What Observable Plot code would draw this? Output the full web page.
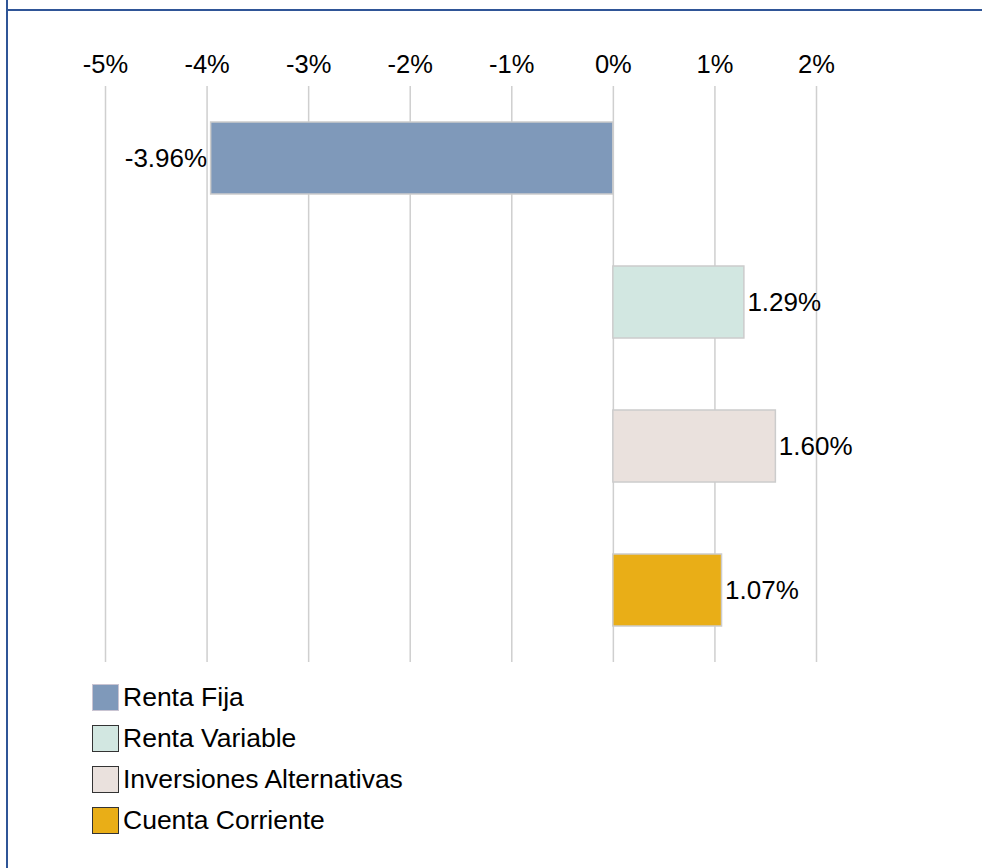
<!DOCTYPE html>
<html><head><meta charset="utf-8">
<script src="https://cdn.jsdelivr.net/npm/d3@7"></script>
<script src="https://cdn.jsdelivr.net/npm/@observablehq/plot@0.6"></script>
<style>
body{margin:0;background:#fff;font-family:"Liberation Sans",Arial,sans-serif;}
#wrap{position:relative;width:982px;height:868px;overflow:hidden;background:#fff;}
#topline{position:absolute;left:6px;top:9px;width:976px;height:2px;background:#2f5597;}
#leftline{position:absolute;left:6px;top:0;width:2px;height:868px;background:#2f5597;}
#chart{position:absolute;left:0;top:0;}
#legend{position:absolute;left:92px;top:677px;}
.item{display:flex;align-items:center;height:41px;font-size:26.5px;color:#000;}
.sw{width:27px;height:27px;box-sizing:border-box;border:1px solid #333;margin-right:4px;}
</style></head><body>
<div id="wrap"><div id="chart"></div><div id="legend"></div><div id="topline"></div><div id="leftline"></div></div>
<script>
const categories = ["Renta Fija","Renta Variable","Inversiones Alternativas","Cuenta Corriente"];
const values = [-3.96, 1.29, 1.60, 1.07];
const colors = ["#7f99ba","#d2e7e1","#eae1dd","#e9ae17"];
const swatchBorders = ["#c9c4d2","#333333","#333333","#333333"];
const ticks = [-5,-4,-3,-2,-1,0,1,2];
const data = categories.map((c,i)=>({category:c, value:values[i]}));
const fmt = d => d + "%";
const chart = Plot.plot({
  width: 982, height: 670,
  marginTop: 86, marginBottom: 8, marginLeft: 105, marginRight: 166,
  style: {fontFamily: '"Liberation Sans", Arial, sans-serif', fontSize: "25px", color: "#000", background: "transparent", overflow: "visible"},
  x: {domain: [-5, 2], ticks, tickFormat: fmt, axis: null, label: null},
  y: {domain: categories, paddingInner: 0.5, paddingOuter: 0.25, axis: null},
  color: {domain: categories, range: colors},
  marks: [
    Plot.ruleX(ticks, {stroke: "#cfcfcf", strokeWidth: 1.5}),
    Plot.axisX({anchor: "top", ticks, tickFormat: fmt, tickSize: 0, tickPadding: 14, fontSize: 25.5, label: null}),
    Plot.barX(data, {x: "value", y: "category", fill: "category", stroke: "#cccccc", strokeWidth: 1.5}),
    Plot.text(data, {filter: d => d.value < 0, x: "value", y: "category", text: d => d.value.toFixed(2) + "%", textAnchor: "end", dx: -4, fontSize: 26, fill: "#000"}),
    Plot.text(data, {filter: d => d.value >= 0, x: "value", y: "category", text: d => d.value.toFixed(2) + "%", textAnchor: "start", dx: 3, fontSize: 26, fill: "#000"})
  ]
});
document.getElementById("chart").appendChild(chart);
const legend = document.getElementById("legend");
categories.forEach((c, i) => {
  const item = document.createElement("div");
  item.className = "item";
  const sw = document.createElement("div");
  sw.className = "sw";
  sw.style.background = colors[i];
  sw.style.borderColor = swatchBorders[i];
  const t = document.createElement("span");
  t.textContent = c;
  item.appendChild(sw); item.appendChild(t);
  legend.appendChild(item);
});
</script>
</body></html>
